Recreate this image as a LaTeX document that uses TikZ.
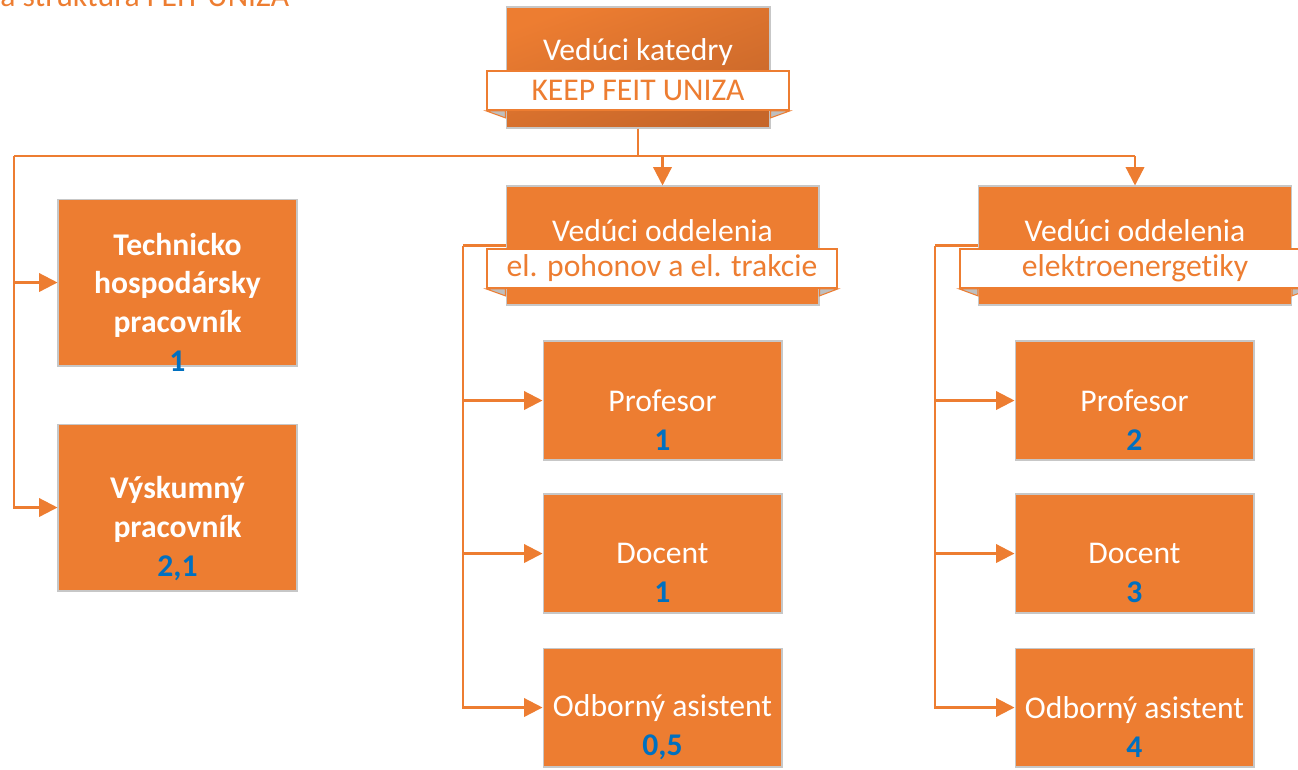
\documentclass[tikz,border=0pt]{standalone}
\usepackage{fontspec}
\setmainfont{Carlito}[Ligatures=NoCommon]
\usetikzlibrary{arrows.meta}
\definecolor{keeporange}{HTML}{ED7D31}
\definecolor{keepdark}{HTML}{C6662A}
\definecolor{keepblue}{HTML}{0070C0}
\definecolor{foldgray}{HTML}{BFBFBF}
\newcommand{\orgfont}{\fontsize{18}{22}\selectfont}
\newcommand{\cnt}[1]{\textcolor{keepblue}{\textbf{#1}}}
\tikzset{
  orgbox/.style={fill=keeporange, draw=black!22, line width=0.6pt,
    minimum width=4.78cm, minimum height=2.38cm, inner sep=0pt},
  headbox/.style={orgbox, minimum width=6.26cm},
  namebar/.style={fill=white, draw=keeporange, line width=1pt, text=keeporange,
    minimum width=7cm, minimum height=0.78cm, inner sep=0pt, font=\orgfont},
  boxtext/.style={text=white, align=center, font=\orgfont, inner sep=0pt},
  conn/.style={keeporange, line width=1.3pt},
  arr/.style={conn, -{Triangle[length=10.5pt,width=10.5pt]}}
}
\begin{document}
\begin{tikzpicture}[x=0.02cm, y=-0.02cm]
  \useasboundingbox (0,0) rectangle (1298,769);
  % title, cut by the page edge
  \node[anchor=base west, inner sep=0pt, text=keeporange, font=\orgfont] (title) at (0,6) {a struktura FEIT UNIZA};

  % head of the department
  \node[orgbox, minimum width=5.28cm, minimum height=2.42cm,
        top color=keeporange, bottom color=keepdark, shading angle=20] (top) at (638,67.5) {};
  \node[boxtext] (topt) at (638,52) {Vedúci katedry};

  % sections
  \node[headbox] (dept1) at (662.5,245.5) {};
  \node[boxtext] (dept1t) at (662.5,231) {Vedúci oddelenia};
  \node[headbox] (dept2) at (1135,245.5) {};
  \node[boxtext] (dept2t) at (1135,231) {Vedúci oddelenia};

  % staff without section
  \node[orgbox, minimum height=3.34cm] (thp) at (177.5,282.5) {};
  \node[boxtext, font=\orgfont\bfseries] (thpt) at (177.5,302) {Technicko\\hospodársky\\pracovník\\\cnt{1}};
  \node[orgbox, minimum height=3.34cm] (vyp) at (177.5,507.5) {};
  \node[boxtext, font=\orgfont\bfseries] (vypt) at (177.5,528.5) {Výskumný\\pracovník\\\cnt{2,1}};

  % staff of the sections
  \node[orgbox] (prof1) at (662.5,400.5) {};
  \node[boxtext] (prof1t) at (662.5,420) {Profesor\\\cnt{1}};
  \node[orgbox] (doc1) at (662.5,553.5) {};
  \node[boxtext] (doc1t) at (662.5,573) {Docent\\\cnt{1}};
  \node[orgbox] (oa1) at (662.5,707.5) {};
  \node[boxtext] (oa1t) at (662.5,727) {Odborný asistent\\\cnt{0,5}};
  \node[orgbox] (prof2) at (1134.5,400.5) {};
  \node[boxtext] (prof2t) at (1134.5,420) {Profesor\\\cnt{2}};
  \node[orgbox] (doc2) at (1134.5,553.5) {};
  \node[boxtext] (doc2t) at (1134.5,573) {Docent\\\cnt{3}};
  \node[orgbox] (oa2) at (1134.5,707.5) {};
  \node[boxtext] (oa2t) at (1134.5,727) {Odborný asistent\\\cnt{4}};

  % connectors
  \coordinate (busL) at (14,156);
  \coordinate (busR) at (1135,156);
  \coordinate (spine1) at (463,245.5);
  \coordinate (spine2) at (935,245.5);
  \draw[conn] (top.south) |- (busL);
  \draw[conn] (top.south) |- (busR);
  \draw[arr] (busL) |- (thp.west);
  \draw[arr] (busL) |- (vyp.west);
  \draw[arr] (dept1.north |- busL) -- (dept1.north);
  \draw[arr] (busR) -- (dept2.north);
  \draw[conn] (dept1.west) -- (spine1);
  \draw[arr] (spine1) |- (prof1.west);
  \draw[arr] (spine1) |- (doc1.west);
  \draw[arr] (spine1) |- (oa1.west);
  \draw[conn] (dept2.west) -- (spine2);
  \draw[arr] (spine2) |- (prof2.west);
  \draw[arr] (spine2) |- (doc2.west);
  \draw[arr] (spine2) |- (oa2.west);

  % name bars
  \node[namebar, minimum width=6.04cm] (toplab) at (638,90.5) {KEEP FEIT UNIZA};
  \node[namebar] (dept1lab) at (662,268.5) {el. pohonov a el. trakcie};
  \node[namebar] (dept2lab) at (1135,268.5) {elektroenergetiky};
  \foreach \l/\b in {toplab/top, dept1lab/dept1, dept2lab/dept2} {
    \filldraw[fill=foldgray, draw=keeporange, line width=0.6pt]
      (\l.south west) -- (\l.south west -| \b.west) -- ([yshift=-0.14cm]\l.south west -| \b.west) -- cycle;
    \filldraw[fill=foldgray, draw=keeporange, line width=0.6pt]
      (\l.south east) -- (\l.south east -| \b.east) -- ([yshift=-0.14cm]\l.south east -| \b.east) -- cycle;
  }
\end{tikzpicture}
\end{document}
